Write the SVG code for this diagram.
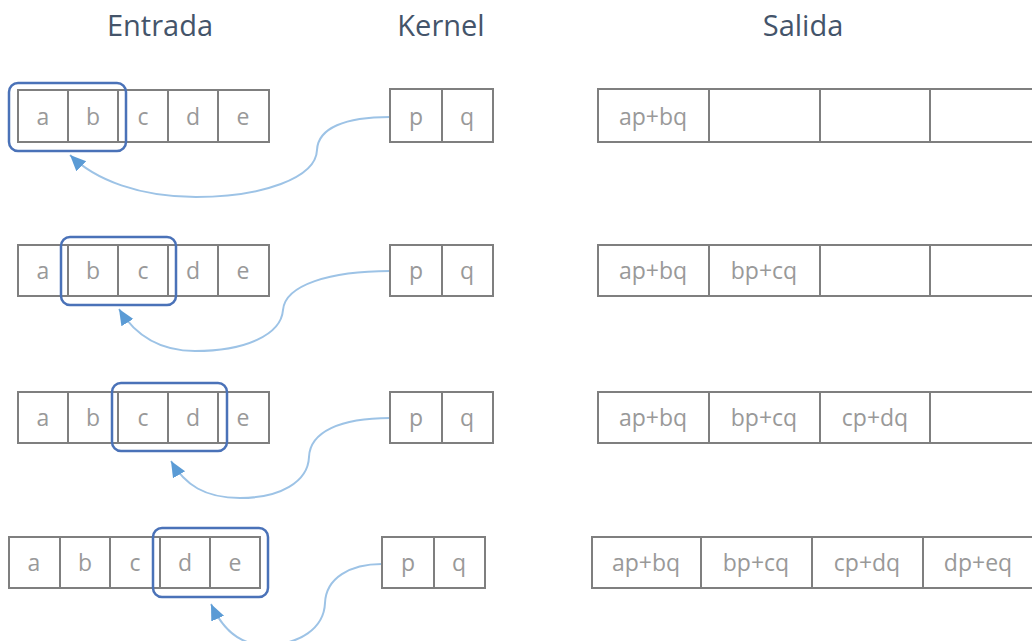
<svg xmlns="http://www.w3.org/2000/svg" width="1032" height="641" viewBox="0 0 1032 641">
<defs>
<style>
.cell{fill:#fff;stroke:#7f7f7f;stroke-width:2}
.lbl{font-family:"Open Sans","Liberation Sans",sans-serif;font-size:23px;fill:#999;text-anchor:middle}
.title{font-family:"Open Sans","Liberation Sans",sans-serif;font-size:29px;fill:#44546a;text-anchor:middle}
.win{fill:none;stroke:#4a72b8;stroke-width:2.5}
.con{fill:none;stroke:#9dc3e6;stroke-width:2}
</style>
<marker id="ah" markerUnits="userSpaceOnUse" markerWidth="18" markerHeight="16" viewBox="0 0 18 16" refX="16" refY="8" orient="auto">
<path d="M0,1 L16,8 L0,15 Z" fill="#5b9bd5"/>
</marker>
</defs>
<rect width="1032" height="641" fill="#fff"/>
<g id="titles">
<text class="title" x="160" y="36">Entrada</text>
<text class="title" x="441" y="36">Kernel</text>
<text class="title" x="803" y="36">Salida</text>
</g>
<g id="connectors">
<path class="con" d="M390,117 C345,117 318,128 317,150 C316,178 262,197 196,197 C140,197 95,180 70,155" marker-end="url(#ah)"/>
<path class="con" d="M390,271 C330,271 285,285 283,310 C281,335 245,351 195,351 C160,351 135,335 119,309" marker-end="url(#ah)"/>
<path class="con" d="M390,418 C340,418 310,432 309,457 C308,482 280,498 240,498 C205,498 185,485 171,461" marker-end="url(#ah)"/>
<path class="con" d="M382,564 C350,564 326,578 325,603 C324,628 300,645 265,645 C238,645 222,628 211,604" marker-end="url(#ah)"/>
</g>
<g id="input1">
<rect class="cell" x="18" y="90" width="50" height="52"/><rect class="cell" x="68" y="90" width="50" height="52"/><rect class="cell" x="118" y="90" width="50" height="52"/><rect class="cell" x="168" y="90" width="50" height="52"/><rect class="cell" x="218" y="90" width="51" height="52"/>
<text class="lbl" x="43" y="125">a</text><text class="lbl" x="93" y="125">b</text><text class="lbl" x="143" y="125">c</text><text class="lbl" x="193" y="125">d</text><text class="lbl" x="243" y="125">e</text>
</g>
<g id="input2">
<rect class="cell" x="18" y="245" width="50" height="51"/><rect class="cell" x="68" y="245" width="50" height="51"/><rect class="cell" x="118" y="245" width="50" height="51"/><rect class="cell" x="168" y="245" width="50" height="51"/><rect class="cell" x="218" y="245" width="51" height="51"/>
<text class="lbl" x="43" y="279">a</text><text class="lbl" x="93" y="279">b</text><text class="lbl" x="143" y="279">c</text><text class="lbl" x="193" y="279">d</text><text class="lbl" x="243" y="279">e</text>
</g>
<g id="input3">
<rect class="cell" x="18" y="392" width="50" height="51"/><rect class="cell" x="68" y="392" width="50" height="51"/><rect class="cell" x="118" y="392" width="50" height="51"/><rect class="cell" x="168" y="392" width="50" height="51"/><rect class="cell" x="218" y="392" width="51" height="51"/>
<text class="lbl" x="43" y="426">a</text><text class="lbl" x="93" y="426">b</text><text class="lbl" x="143" y="426">c</text><text class="lbl" x="193" y="426">d</text><text class="lbl" x="243" y="426">e</text>
</g>
<g id="input4">
<rect class="cell" x="9" y="537" width="51" height="51"/><rect class="cell" x="60" y="537" width="50" height="51"/><rect class="cell" x="110" y="537" width="50" height="51"/><rect class="cell" x="160" y="537" width="50" height="51"/><rect class="cell" x="210" y="537" width="50" height="51"/>
<text class="lbl" x="34" y="571">a</text><text class="lbl" x="85" y="571">b</text><text class="lbl" x="135" y="571">c</text><text class="lbl" x="185" y="571">d</text><text class="lbl" x="235" y="571">e</text>
</g>
<g id="window1"><rect class="win" x="9" y="83" width="117" height="68" rx="9"/></g>
<g id="window2"><rect class="win" x="61" y="237" width="115" height="68" rx="9"/></g>
<g id="window3"><rect class="win" x="112" y="383" width="115" height="68" rx="9"/></g>
<g id="window4"><rect class="win" x="153" y="528" width="115" height="69" rx="9"/></g>
<g id="kernel1">
<rect class="cell" x="390" y="89" width="52" height="53"/><rect class="cell" x="442" y="89" width="51" height="53"/>
<text class="lbl" x="416" y="125">p</text><text class="lbl" x="467" y="125">q</text>
</g>
<g id="kernel2">
<rect class="cell" x="390" y="245" width="52" height="51"/><rect class="cell" x="442" y="245" width="51" height="51"/>
<text class="lbl" x="416" y="279">p</text><text class="lbl" x="467" y="279">q</text>
</g>
<g id="kernel3">
<rect class="cell" x="390" y="392" width="52" height="51"/><rect class="cell" x="442" y="392" width="51" height="51"/>
<text class="lbl" x="416" y="426">p</text><text class="lbl" x="467" y="426">q</text>
</g>
<g id="kernel4">
<rect class="cell" x="382" y="537" width="52" height="51"/><rect class="cell" x="434" y="537" width="51" height="51"/>
<text class="lbl" x="408" y="571">p</text><text class="lbl" x="459" y="571">q</text>
</g>
<g id="output1">
<rect class="cell" x="598" y="89" width="111" height="53"/><rect class="cell" x="709" y="89" width="111" height="53"/><rect class="cell" x="820" y="89" width="110" height="53"/><rect class="cell" x="930" y="89" width="111" height="53"/>
<text class="lbl" x="653" y="125">ap+bq</text>
</g>
<g id="output2">
<rect class="cell" x="598" y="245" width="111" height="51"/><rect class="cell" x="709" y="245" width="111" height="51"/><rect class="cell" x="820" y="245" width="110" height="51"/><rect class="cell" x="930" y="245" width="111" height="51"/>
<text class="lbl" x="653" y="279">ap+bq</text><text class="lbl" x="764" y="279">bp+cq</text>
</g>
<g id="output3">
<rect class="cell" x="598" y="392" width="111" height="51"/><rect class="cell" x="709" y="392" width="111" height="51"/><rect class="cell" x="820" y="392" width="110" height="51"/><rect class="cell" x="930" y="392" width="111" height="51"/>
<text class="lbl" x="653" y="426">ap+bq</text><text class="lbl" x="764" y="426">bp+cq</text><text class="lbl" x="875" y="426">cp+dq</text>
</g>
<g id="output4">
<rect class="cell" x="592" y="537" width="109" height="51"/><rect class="cell" x="701" y="537" width="111" height="51"/><rect class="cell" x="812" y="537" width="111" height="51"/><rect class="cell" x="923" y="537" width="111" height="51"/>
<text class="lbl" x="646" y="571">ap+bq</text><text class="lbl" x="756" y="571">bp+cq</text><text class="lbl" x="867" y="571">cp+dq</text><text class="lbl" x="978" y="571">dp+eq</text>
</g>
</svg>
